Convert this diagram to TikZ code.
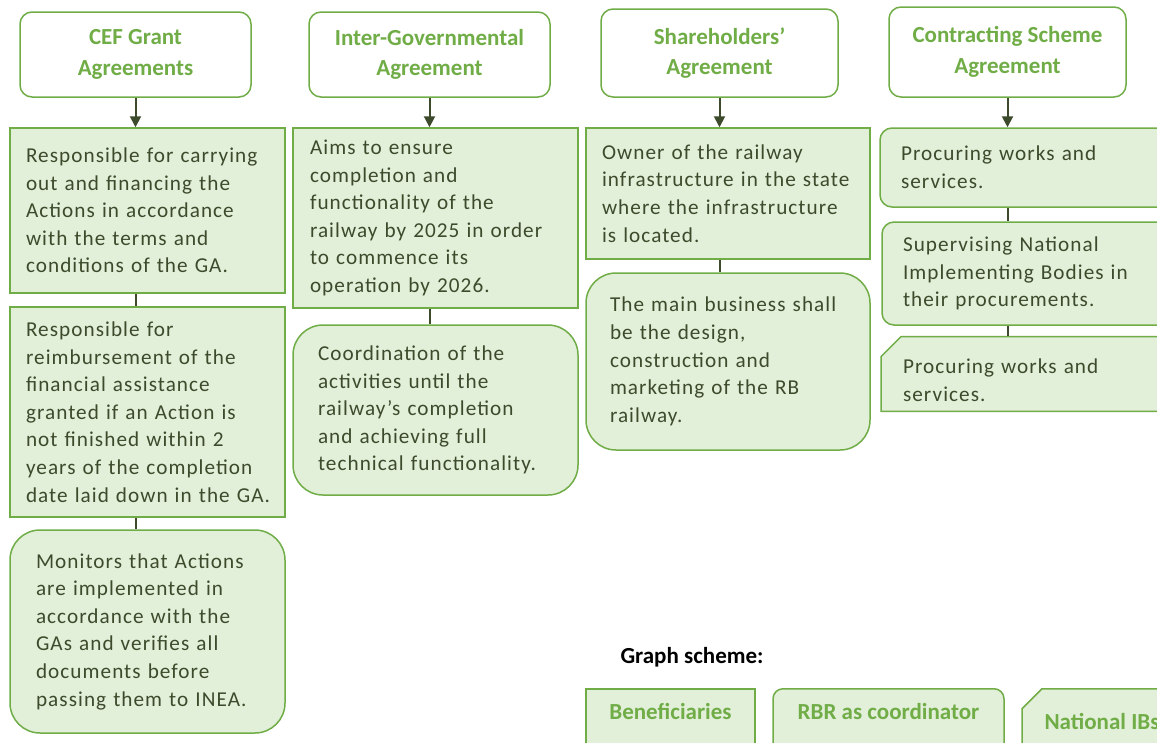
\documentclass[tikz,border=0pt]{standalone}
\usepackage{fontspec}
\setmainfont{Carlito}
\newfontfamily\bodyfont{Carlito}[LetterSpace=5]
\usetikzlibrary{positioning,arrows.meta,shapes.misc}
\definecolor{leafgreen}{HTML}{70AD47}
\definecolor{paleleaf}{HTML}{E2EFD9}
\definecolor{darkolive}{HTML}{3D4B2C}
\tikzset{
  agreement/.style={rectangle, rounded corners=12pt, draw=leafgreen, line width=1.5pt, fill=white, text=leafgreen, font=\fontsize{23}{30.5}\selectfont\bfseries, align=center, inner sep=0pt},
  task/.style={draw=leafgreen, line width=1.5pt, fill=paleleaf, text=darkolive, font=\bodyfont\fontsize{21.2}{27.6}\selectfont, align=left, inner ysep=0pt},
  beneficiary/.style={task, rectangle},
  coordinator/.style={task, rectangle, rounded corners=#1},
  coordinator/.default=30pt,
  nationalib/.style={task, chamfered rectangle, chamfered rectangle corners=north west, chamfered rectangle xsep=10pt, chamfered rectangle ysep=10pt},
  legend/.style={text=leafgreen, font=\fontsize{23}{26}\selectfont\bfseries, align=center, text height=31pt, text depth=50pt, anchor=north},
  arrow/.style={darkolive, line width=2pt, -{Triangle[width=11pt,length=11pt]}},
  link/.style={darkolive, line width=2pt}
}
\begin{document}
\begin{tikzpicture}[x=1pt,y=-1pt]
\clip (0,0) rectangle (1157,742);
\fill[white] (0,0) rectangle (1157,742);
% agreements
\node (cef) [agreement, minimum width=231, minimum height=85] at (135.5,54.5) {CEF Grant\\Agreements};
\node (igov) [agreement, minimum width=241, minimum height=85] at (429.5,54.5) {Inter-Governmental\\Agreement};
\node (share) [agreement, minimum width=237, minimum height=88] at (719.5,53) {Shareholders’\\Agreement};
\node (contract) [agreement, minimum width=237, minimum height=90] at (1007.5,52) {Contracting Scheme\\Agreement};

% CEF Grant column
\node (cefA) [beneficiary, minimum width=275, minimum height=165, text width=243, inner xsep=16] at (147.5,210.5) {Responsible for carrying\\out and financing the\\Actions in accordance\\with the terms and\\conditions of the GA.};
\node (cefB) [beneficiary, minimum width=275, minimum height=210, text width=243, inner xsep=16] at (147.5,412) {Responsible for\\reimbursement of the\\financial assistance\\granted if an Action is\\not finished within 2\\years of the completion\\date~laid~down~in~the~GA.};
\node (cefC) [coordinator, minimum width=275, minimum height=203, text width=223, inner xsep=26] at (147.5,631.5) {Monitors that Actions\\are implemented in\\accordance with the\\GAs and verifies all\\documents before\\passing them to INEA.};

% Inter-Governmental column
\node (igovA) [beneficiary, minimum width=285, minimum height=180, text width=251, inner xsep=17] at (435.5,218) {Aims to ensure\\completion and\\functionality of the\\railway by 2025 in order\\to commence its\\operation by 2026.};
\node (igovB) [coordinator, minimum width=285, minimum height=170, text width=235, inner xsep=25] at (435.5,410) {Coordination of the\\activities until the\\railway’s completion\\and achieving full\\technical functionality.};

% Shareholders column
\node (shareA) [beneficiary, minimum width=284, minimum height=131, text width=252, inner xsep=16] at (728,193.5) {Owner of the railway\\infrastructure in the state\\where the infrastructure\\is located.};
\node (shareB) [coordinator, minimum width=284, minimum height=177, text width=236, inner xsep=24] at (728,361.5) {The main business shall\\be the design,\\construction and\\marketing of the RB\\railway.};

% Contracting Scheme column
\node (contractA) [coordinator=12pt, minimum width=310, minimum height=79, text width=268, inner xsep=21] at (1035,167.5) {Procuring works and\\services.};
\node (contractB) [coordinator=12pt, minimum width=308, minimum height=103, text width=266, inner xsep=21] at (1036,273.5) {Supervising National\\Implementing Bodies in\\their procurements.};
\node (contractC) [nationalib, minimum width=289, minimum height=72, text width=255, inner xsep=12] at (1030.5,374) {\rule{0pt}{27pt}Procuring works and\\services.};

% connectors
\draw [arrow] (cef.south) -- (cef.south |- cefA.north);
\draw [link] (cef.south |- cefA.south) -- (cef.south |- cefB.north);
\draw [link] (cef.south |- cefB.south) -- (cef.south |- cefC.north);
\draw [arrow] (igov.south) -- (igov.south |- igovA.north);
\draw [link] (igov.south |- igovA.south) -- (igov.south |- igovB.north);
\draw [arrow] (share.south) -- (share.south |- shareA.north);
\draw [link] (share.south |- shareA.south) -- (share.south |- shareB.north);
\draw [arrow] (contract.south) -- (contract.south |- contractA.north);
\draw [link] (contract.south |- contractA.south) -- (contract.south |- contractB.north);
\draw [link] (contract.south |- contractB.south) -- (contract.south |- contractC.north);

% graph scheme
\node (scheme) [font=\fontsize{23}{26}\selectfont\bfseries] at (692,657) {Graph scheme:};
\node (benef) [beneficiary, legend, minimum width=169] at (670.5,688) {Beneficiaries};
\node (rbr) [coordinator=10pt, legend, minimum width=231] at (888.5,688) {RBR as coordinator};
\node (natib) [nationalib, legend, minimum width=160] at (1102,688) {National IBs};
\end{tikzpicture}
\end{document}
